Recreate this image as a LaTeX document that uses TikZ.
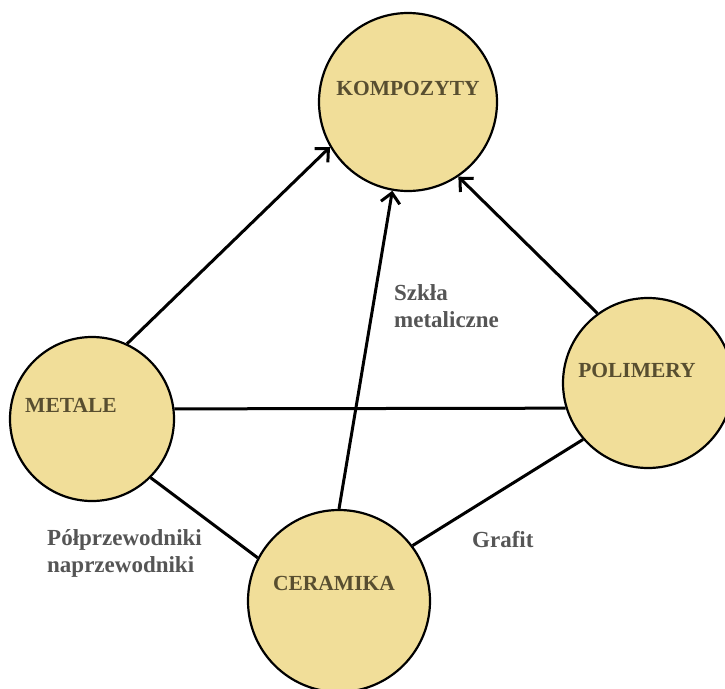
\documentclass[tikz,border=0pt]{standalone}
\usepackage{fontspec}
\setmainfont{Liberation Serif}
\usetikzlibrary{arrows.meta,positioning}

\definecolor{circlefill}{RGB}{241,222,153}
\definecolor{circletext}{RGB}{88,78,48}
\definecolor{labeltext}{RGB}{85,85,85}

\begin{document}
\begin{tikzpicture}[
  x=1pt, y=-1pt,
  >={Straight Barb[length=10pt,width=19pt]},
  main node/.style={draw, circle, line width=2.2pt, fill=circlefill, inner sep=0pt},
  main text/.style={font=\bfseries\fontsize{21.5}{27}\selectfont, text=circletext, inner sep=0pt},
  side text/.style={font=\bfseries\fontsize{23}{27}\selectfont, text=labeltext,
    align=left, anchor=west, inner sep=0pt},
  link/.style={line width=3pt},
]
  \useasboundingbox (0,0) rectangle (725,688);

  % Circles, node names: kompozyty, metale, polimery, ceramika
  \path
    \foreach \name/\x/\y/\d in {kompozyty/408/102/178, metale/92/419/164,
                                polimery/648/383/170, ceramika/339/601/182} {
      (\x,\y) node[main node, minimum size=\d pt] (\name) {}
    }
  ;

  % Names inside the circles
  \foreach \name/\x/\y/\txt in {kompozyty/408/88/KOMPOZYTY, metale/71/405/METALE,
                                polimery/637/370/POLIMERY, ceramika/334/583/CERAMIKA} {
    \node[main text] (\name-text) at (\x,\y) {\txt};
  }

  % Arrows into KOMPOZYTY
  \draw[link, ->] (metale.65) -- (kompozyty.210);
  \draw[link, ->] (ceramika.90) -- (kompozyty.260);
  \draw[link, ->] (polimery.126) -- (kompozyty.304);

  % Plain links
  \draw[link] (metale.7.6) -- (polimery.197);
  \draw[link] (metale.315) -- (ceramika.152);
  \draw[link] (ceramika.37) -- (polimery.221);

  % Labels on the links
  \node[side text] (szkla) at (394,306) {Szkła\\metaliczne};
  \node[side text] (polprz) at (47,553) {Półprzewodniki\\naprzewodniki};
  \node[side text] (grafit) at (472,540) {Grafit};
\end{tikzpicture}
\end{document}
